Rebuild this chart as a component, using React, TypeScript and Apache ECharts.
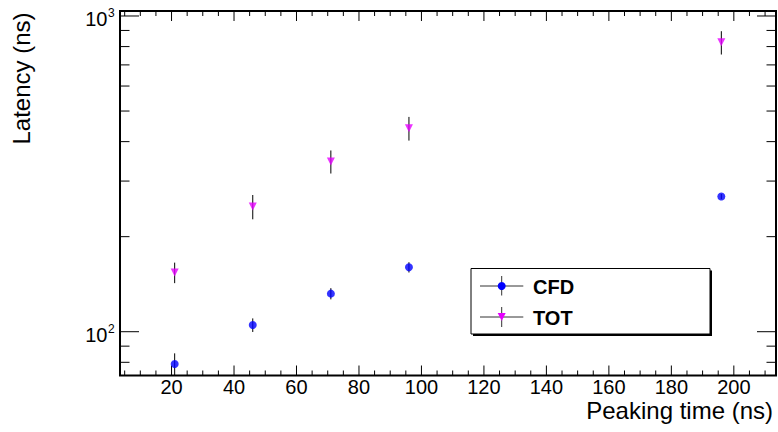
import React, { useEffect, useRef } from "react";
import * as echarts from "echarts";

// ---- data ----
const peakingTimes = [21, 46, 71, 96, 196];
const cfdLatency = [79, 105, 132, 160, 268];
const cfdError = [6.4, 5.2, 5.4, 6, 5];
const totLatency = [154, 249, 346, 441, 825];
const totError = [11.5, 22, 29, 38, 70];

// ---- axis ranges and ticks ----
const X_MIN = 3.5;
const X_MAX = 213.5;
const Y_MIN = 72.66;
const Y_MAX = 1037.1;

const xMajorTicks = [20, 40, 60, 80, 100, 120, 140, 160, 180, 200];
const xTickLabels = ["20", "40", "60", "80", "100", "120", "140", "160", "180", "200"];
const xMinorTicks = [
  5, 10, 15, 25, 30, 35, 45, 50, 55, 65, 70, 75, 85, 90, 95, 105, 110, 115, 125, 130, 135,
  145, 150, 155, 165, 170, 175, 185, 190, 195, 205, 210,
];
const yMajorTicks = [100, 1000];
const yTickBases = ["10", "10"];
const yTickExponents = ["2", "3"];
const yMinorTicks = [80, 90, 200, 300, 400, 500, 600, 700, 800, 900];

const seriesNames = ["CFD", "TOT"];
const xTitle = "Peaking time (ns)";
const yTitle = "Latency (ns)";

const FONT = '"Liberation Sans", Arial, Helvetica, sans-serif';
const CFD_COLOR = "#0000ff";
const TOT_COLOR = "#e600ff";

function xTickSeries(values: number[], len: number) {
  return {
    type: "custom",
    silent: true,
    z: 3,
    data: values.map((v) => [v, Y_MIN]),
    renderItem: (_p: any, api: any) => {
      const v = api.value(0);
      const b = api.coord([v, Y_MIN]);
      const t = api.coord([v, Y_MAX]);
      return {
        type: "group",
        children: [
          { type: "line", shape: { x1: b[0], y1: b[1], x2: b[0], y2: b[1] - len }, style: { stroke: "#000", lineWidth: 1 } },
          { type: "line", shape: { x1: t[0], y1: t[1], x2: t[0], y2: t[1] + len }, style: { stroke: "#000", lineWidth: 1 } },
        ],
      };
    },
  };
}

function yTickSeries(values: number[], len: number) {
  return {
    type: "custom",
    silent: true,
    z: 3,
    data: values.map((v) => [X_MIN, v]),
    renderItem: (_p: any, api: any) => {
      const v = api.value(1);
      const l = api.coord([X_MIN, v]);
      const r = api.coord([X_MAX, v]);
      return {
        type: "group",
        children: [
          { type: "line", shape: { x1: l[0], y1: l[1], x2: l[0] + len, y2: l[1] }, style: { stroke: "#000", lineWidth: 1 } },
          { type: "line", shape: { x1: r[0], y1: r[1], x2: r[0] - len, y2: r[1] }, style: { stroke: "#000", lineWidth: 1 } },
        ],
      };
    },
  };
}

function errorSeries(values: number[], errors: number[]) {
  return {
    type: "custom",
    silent: true,
    z: 4,
    data: peakingTimes.map((x, i) => [x, values[i], errors[i]]),
    renderItem: (_p: any, api: any) => {
      const x = api.value(0);
      const y = api.value(1);
      const e = api.value(2);
      const lo = api.coord([x, y - e]);
      const hi = api.coord([x, y + e]);
      return {
        type: "line",
        shape: { x1: lo[0], y1: lo[1], x2: hi[0], y2: hi[1] },
        style: { stroke: "#000", lineWidth: 1 },
      };
    },
  };
}

export default function App() {
  const ref = useRef<HTMLDivElement>(null);

  useEffect(() => {
    if (!ref.current) return;
    const chart = echarts.init(ref.current, null, { renderer: "svg" });

    const legendX = 471;
    const legendY = 268.5;
    const legendW = 239;
    const legendH = 65.5;
    const symX = 501.7;
    const row1 = 286;
    const row2 = 317;

    const option: any = {
      animation: false,
      grid: {
        left: 120,
        top: 11,
        width: 656,
        height: 364.5,
        show: true,
        borderColor: "#000",
        borderWidth: 2,
        backgroundColor: "transparent",
      },
      xAxis: { type: "value", min: X_MIN, max: X_MAX, show: false },
      yAxis: { type: "log", logBase: 10, min: Y_MIN, max: Y_MAX, show: false },
      series: [
        xTickSeries(xMajorTicks, 10),
        xTickSeries(xMinorTicks, 5),
        yTickSeries(yMajorTicks, 19),
        yTickSeries(yMinorTicks, 9.5),
        {
          type: "custom",
          silent: true,
          z: 3,
          data: xMajorTicks.map((v) => [v, Y_MIN]),
          renderItem: (p: any, api: any) => {
            const b = api.coord([api.value(0), Y_MIN]);
            return {
              type: "text",
              x: b[0],
              y: b[1] + 11,
              style: {
                text: xTickLabels[p.dataIndex],
                fontFamily: FONT,
                fontSize: 20,
                fill: "#000",
                align: "center",
                verticalAlign: "middle",
              },
            };
          },
        },
        {
          type: "custom",
          silent: true,
          z: 3,
          data: yMajorTicks.map((v) => [X_MIN, v]),
          renderItem: (p: any, api: any) => {
            const l = api.coord([X_MIN, api.value(1)]);
            const rightEdge = l[0] - 12.5;
            return {
              type: "group",
              children: [
                {
                  type: "text",
                  x: rightEdge,
                  y: l[1] + 2.8,
                  style: {
                    text: yTickBases[p.dataIndex],
                    fontFamily: FONT,
                    fontSize: 20,
                    fill: "#000",
                    align: "right",
                    verticalAlign: "middle",
                  },
                },
                {
                  type: "text",
                  x: rightEdge + 0.5,
                  y: l[1] - 2.5,
                  style: {
                    text: yTickExponents[p.dataIndex],
                    fontFamily: FONT,
                    fontSize: 12,
                    fill: "#000",
                    align: "left",
                    verticalAlign: "middle",
                  },
                },
              ],
            };
          },
        },
        errorSeries(cfdLatency, cfdError),
        errorSeries(totLatency, totError),
        {
          name: seriesNames[0],
          type: "scatter",
          z: 5,
          symbol: "circle",
          symbolSize: 8,
          itemStyle: { color: CFD_COLOR },
          data: peakingTimes.map((x, i) => [x, cfdLatency[i]]),
        },
        {
          name: seriesNames[1],
          type: "scatter",
          z: 5,
          symbol: "triangle",
          symbolRotate: 180,
          symbolSize: 8,
          itemStyle: { color: TOT_COLOR },
          data: peakingTimes.map((x, i) => [x, totLatency[i]]),
        },
      ],
      graphic: [
        {
          type: "text",
          x: 773,
          y: 410,
          style: { text: xTitle, fontFamily: FONT, fontSize: 24, fill: "#000", align: "right", verticalAlign: "middle" },
        },
        {
          type: "text",
          x: 21.3,
          y: 78.5,
          rotation: Math.PI / 2,
          style: { text: yTitle, fontFamily: FONT, fontSize: 24, fill: "#000", align: "center", verticalAlign: "middle" },
        },
        // legend
        {
          type: "rect",
          shape: { x: legendX + 2, y: legendY + 2, width: legendW, height: legendH },
          style: { fill: "#000" },
          z: 10,
        },
        {
          type: "rect",
          shape: { x: legendX, y: legendY, width: legendW, height: legendH },
          style: { fill: "#fff", stroke: "#000", lineWidth: 1 },
          z: 11,
        },
        {
          type: "line",
          shape: { x1: 480, y1: row1, x2: 523.3, y2: row1 },
          style: { stroke: "#333", lineWidth: 1 },
          z: 12,
        },
        {
          type: "line",
          shape: { x1: symX, y1: row1 - 10, x2: symX, y2: row1 + 9.5 },
          style: { stroke: "#333", lineWidth: 1 },
          z: 12,
        },
        {
          type: "circle",
          shape: { cx: symX, cy: row1, r: 4 },
          style: { fill: CFD_COLOR },
          z: 13,
        },
        {
          type: "text",
          x: 533,
          y: row1 + 0.5,
          style: { text: seriesNames[0], fontFamily: FONT, fontSize: 20, fontWeight: "bold", fill: "#000", align: "left", verticalAlign: "middle" },
          z: 13,
        },
        {
          type: "line",
          shape: { x1: 480, y1: row2, x2: 523.3, y2: row2 },
          style: { stroke: "#333", lineWidth: 1 },
          z: 12,
        },
        {
          type: "line",
          shape: { x1: symX, y1: row2 - 10, x2: symX, y2: row2 + 10 },
          style: { stroke: "#333", lineWidth: 1 },
          z: 12,
        },
        {
          type: "polygon",
          shape: { points: [[symX - 4, row2 - 4], [symX + 4, row2 - 4], [symX, row2 + 4]] },
          style: { fill: TOT_COLOR },
          z: 13,
        },
        {
          type: "text",
          x: 533,
          y: row2 + 1,
          style: { text: seriesNames[1], fontFamily: FONT, fontSize: 20, fontWeight: "bold", fill: "#000", align: "left", verticalAlign: "middle" },
          z: 13,
        },
      ],
    };

    chart.setOption(option);
    return () => chart.dispose();
  }, []);

  return (
    <div
      ref={ref}
      style={{ position: "fixed", left: 0, top: 0, width: 778, height: 432, background: "#fff" }}
    />
  );
}
